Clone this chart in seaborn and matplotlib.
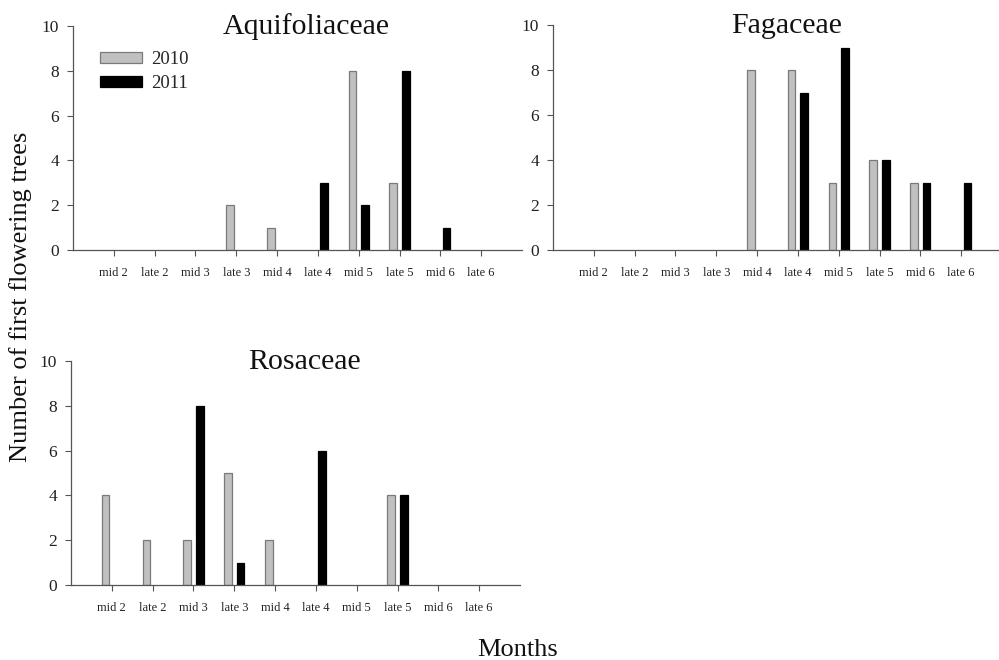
import matplotlib
matplotlib.use("Agg")
import matplotlib.pyplot as plt
import seaborn as sns
import pandas as pd

# Half-month periods on the x axis
periods = ["mid 2", "late 2", "mid 3", "late 3", "mid 4",
           "late 4", "mid 5", "late 5", "mid 6", "late 6"]
years = ["2010", "2011"]

# Number of trees that first flowered in each period
aquifoliaceae_2010 = [0, 0, 0, 2, 1, 0, 8, 3, 0, 0]
aquifoliaceae_2011 = [0, 0, 0, 0, 0, 3, 2, 8, 1, 0]
fagaceae_2010 = [0, 0, 0, 0, 8, 8, 3, 4, 3, 0]
fagaceae_2011 = [0, 0, 0, 0, 0, 7, 9, 4, 3, 3]
rosaceae_2010 = [4, 2, 2, 5, 2, 0, 0, 4, 0, 0]
rosaceae_2011 = [0, 0, 8, 1, 0, 6, 0, 4, 0, 0]

y_ticks = [0, 2, 4, 6, 8, 10]

families = {
    "Aquifoliaceae": (aquifoliaceae_2010, aquifoliaceae_2011),
    "Fagaceae": (fagaceae_2010, fagaceae_2011),
    "Rosaceae": (rosaceae_2010, rosaceae_2011),
}

sns.set_theme(style="ticks")
plt.rcParams["font.family"] = ["Liberation Serif", "DejaVu Serif"]

FILL = {"2010": "#c0c0c0", "2011": "#000000"}
EDGE = {"2010": "#7a7a7a", "2011": "#000000"}
AXIS = "#555555"

fig = plt.figure(figsize=(9.99, 6.6), dpi=100)
W, H = 999.0, 660.0


def frame(left, top, right, bottom):
    return [left / W, 1 - bottom / H, (right - left) / W, (bottom - top) / H]


boxes = {
    "Aquifoliaceae": frame(73, 26, 522, 250),
    "Fagaceae": frame(553, 25, 1002, 250),
    "Rosaceae": frame(71, 361, 520, 585),
}

for name, (v2010, v2011) in families.items():
    ax = fig.add_axes(boxes[name])
    df = pd.DataFrame({
        "period": periods * 2,
        "year": [years[0]] * len(periods) + [years[1]] * len(periods),
        "count": list(v2010) + list(v2011),
    })
    sns.barplot(data=df, x="period", y="count", hue="year", order=periods,
                hue_order=years, palette=FILL, width=0.62, gap=0.4,
                saturation=1, linewidth=0.9, edgecolor="#7a7a7a",
                legend=False, ax=ax)
    # colour edges per year and hide empty bars
    for container, yr in zip(ax.containers, years):
        for patch in container:
            patch.set_edgecolor(EDGE[yr])
            if patch.get_height() == 0:
                patch.set_visible(False)

    ax.set_xlim(-1, 10)
    ax.set_ylim(0, 10)
    ax.set_yticks(y_ticks)
    ax.set_xlabel("")
    ax.set_ylabel("")
    for side in ("top", "right"):
        ax.spines[side].set_visible(False)
    for side in ("left", "bottom"):
        ax.spines[side].set_color(AXIS)
        ax.spines[side].set_linewidth(0.9)
    ax.tick_params(axis="x", labelsize=9, length=4, width=0.8,
                   color=AXIS, labelcolor="#222222", pad=8)
    ax.tick_params(axis="y", labelsize=12.5, length=4, width=0.8,
                   color=AXIS, labelcolor="#222222", pad=6)
    ax.text(0.52, 0.965, name, transform=ax.transAxes, ha="center",
            va="baseline", fontsize=21.5, color="#111111")

    if name == "Aquifoliaceae":
        handles = [plt.Rectangle((0, 0), 1, 1, facecolor=FILL[y],
                                 edgecolor=EDGE[y], linewidth=0.9)
                   for y in years]
        ax.legend(handles, years, loc="upper left",
                  bbox_to_anchor=(0.043, 0.92), frameon=False, fontsize=13.5,
                  handlelength=2.25, handleheight=0.55, handletextpad=0.5,
                  labelspacing=0.35, borderaxespad=0)

fig.text(0.021, 0.55, "Number of first flowering trees", rotation=90,
         ha="center", va="center", fontsize=19, color="#111111")
fig.text(0.518, 0.006, "Months", ha="center", va="baseline",
         fontsize=19, color="#111111")

fig.savefig("out.png", dpi=100)
